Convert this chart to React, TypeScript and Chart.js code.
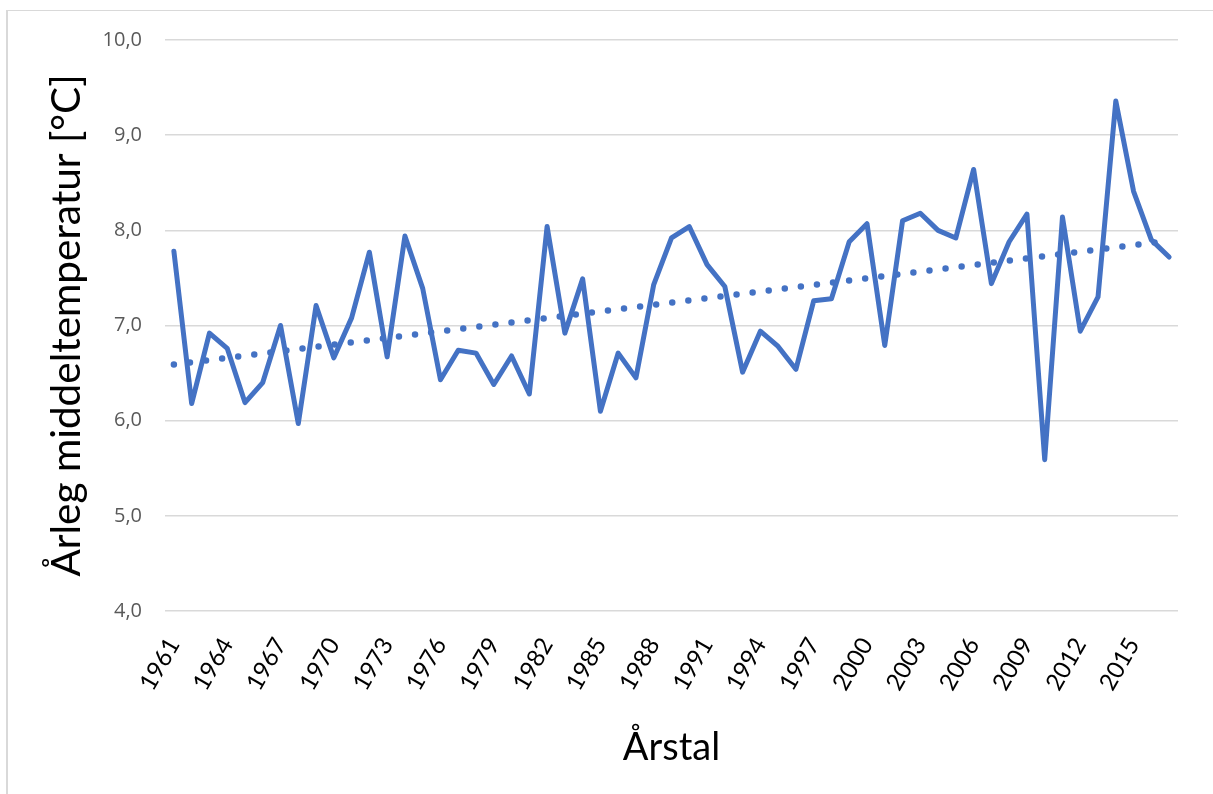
import React, { useEffect, useRef } from 'react';
import { Chart, registerables } from 'chart.js';

Chart.register(...registerables);

const years = [
  '1961', '1962', '1963', '1964', '1965', '1966', '1967', '1968', '1969', '1970',
  '1971', '1972', '1973', '1974', '1975', '1976', '1977', '1978', '1979', '1980',
  '1981', '1982', '1983', '1984', '1985', '1986', '1987', '1988', '1989', '1990',
  '1991', '1992', '1993', '1994', '1995', '1996', '1997', '1998', '1999', '2000',
  '2001', '2002', '2003', '2004', '2005', '2006', '2007', '2008', '2009', '2010',
  '2011', '2012', '2013', '2014', '2015', '2016', '2017',
];

const temperatures = [
  7.78, 6.18, 6.92, 6.76, 6.19, 6.40, 7.00, 5.97, 7.21, 6.66,
  7.08, 7.77, 6.67, 7.94, 7.39, 6.43, 6.74, 6.71, 6.38, 6.68,
  6.28, 8.04, 6.92, 7.49, 6.10, 6.71, 6.45, 7.43, 7.92, 8.04,
  7.64, 7.41, 6.51, 6.94, 6.78, 6.54, 7.26, 7.28, 7.88, 8.07,
  6.79, 8.10, 8.18, 8.00, 7.92, 8.64, 7.44, 7.88, 8.17, 5.59,
  8.14, 6.94, 7.30, 9.36, 8.41, 7.90, 7.72,
];

// Linear trendline end points
const trendYears = ['1961', '2017'];
const trendValues = [6.59, 7.89];

const yMin = 4;
const yMax = 10;
const yStep = 1;
const labelEvery = 3;

const yTitle = 'Årleg middeltemperatur [°C]';
const xTitle = 'Årstal';

const BLUE = '#4472C4';

export default function App() {
  const canvasRef = useRef<HTMLCanvasElement | null>(null);

  useEffect(() => {
    document.body.style.margin = '0';
    const canvas = canvasRef.current;
    if (!canvas) return;

    const chart = new Chart(canvas, {
      type: 'line',
      data: {
        labels: years,
        datasets: [
          {
            label: 'Temperatur',
            data: temperatures,
            borderColor: BLUE,
            backgroundColor: BLUE,
            borderWidth: 5,
            borderJoinStyle: 'round',
            borderCapStyle: 'round',
            pointRadius: 0,
            tension: 0,
            fill: false,
          },
          {
            label: 'Trend',
            data: trendYears.map((y, i) => ({ x: y, y: trendValues[i] })),
            borderColor: BLUE,
            backgroundColor: BLUE,
            borderWidth: 6.5,
            borderDash: [0, 16.2],
            borderCapStyle: 'round',
            pointRadius: 0,
            tension: 0,
            fill: false,
          },
        ],
      },
      options: {
        responsive: false,
        animation: false,
        devicePixelRatio: 1,
        layout: { padding: { top: 40, right: 35, left: 0, bottom: 0 } },
        plugins: {
          legend: { display: false },
          tooltip: { enabled: false },
          title: { display: false },
        },
        scales: {
          x: {
            type: 'category',
            offset: true,
            grid: { display: false, drawTicks: false },
            border: { display: false },
            ticks: {
              autoSkip: false,
              maxRotation: 60,
              minRotation: 60,
              padding: 22,
              color: '#000000',
              font: { family: 'Lato', size: 24 },
              callback: function (_v: any, index: number) {
                return index % labelEvery === 0 ? years[index] : '';
              },
            },
            title: {
              display: true,
              text: xTitle,
              color: '#000000',
              font: { family: 'Lato', size: 38 },
              padding: { top: 0, bottom: 23 },
            },
            afterFit: (scale: any) => {
              scale.height = 183;
              scale.paddingRight = 0;
            },
          },
          y: {
            min: yMin,
            max: yMax,
            grid: { color: '#d9d9d9', lineWidth: 1.5, drawTicks: false },
            border: { display: false },
            ticks: {
              stepSize: yStep,
              padding: 23,
              color: '#595959',
              font: { family: 'Open Sans', size: 20 },
              callback: (v: any) => Number(v).toFixed(1).replace('.', ','),
            },
            title: {
              display: true,
              text: yTitle,
              color: '#000000',
              font: { family: 'Lato', size: 40.5 },
              padding: { top: 43, bottom: 0 },
            },
            afterFit: (scale: any) => {
              scale.width = 165;
            },
          },
        },
      },
    });

    return () => {
      chart.destroy();
    };
  }, []);

  return (
    <div
      style={{
        position: 'relative',
        width: 1213,
        height: 794,
        overflow: 'hidden',
        background: '#ffffff',
      }}
    >
      <div
        style={{
          position: 'absolute',
          left: 6,
          top: 10,
          width: 1240,
          height: 820,
          borderLeft: '2px solid #d9d9d9',
          borderTop: '1.5px solid #d9d9d9',
          boxSizing: 'border-box',
          pointerEvents: 'none',
        }}
      />
      <canvas
        ref={canvasRef}
        width={1213}
        height={794}
        style={{ position: 'absolute', left: 0, top: 0, width: 1213, height: 794 }}
      />
    </div>
  );
}
